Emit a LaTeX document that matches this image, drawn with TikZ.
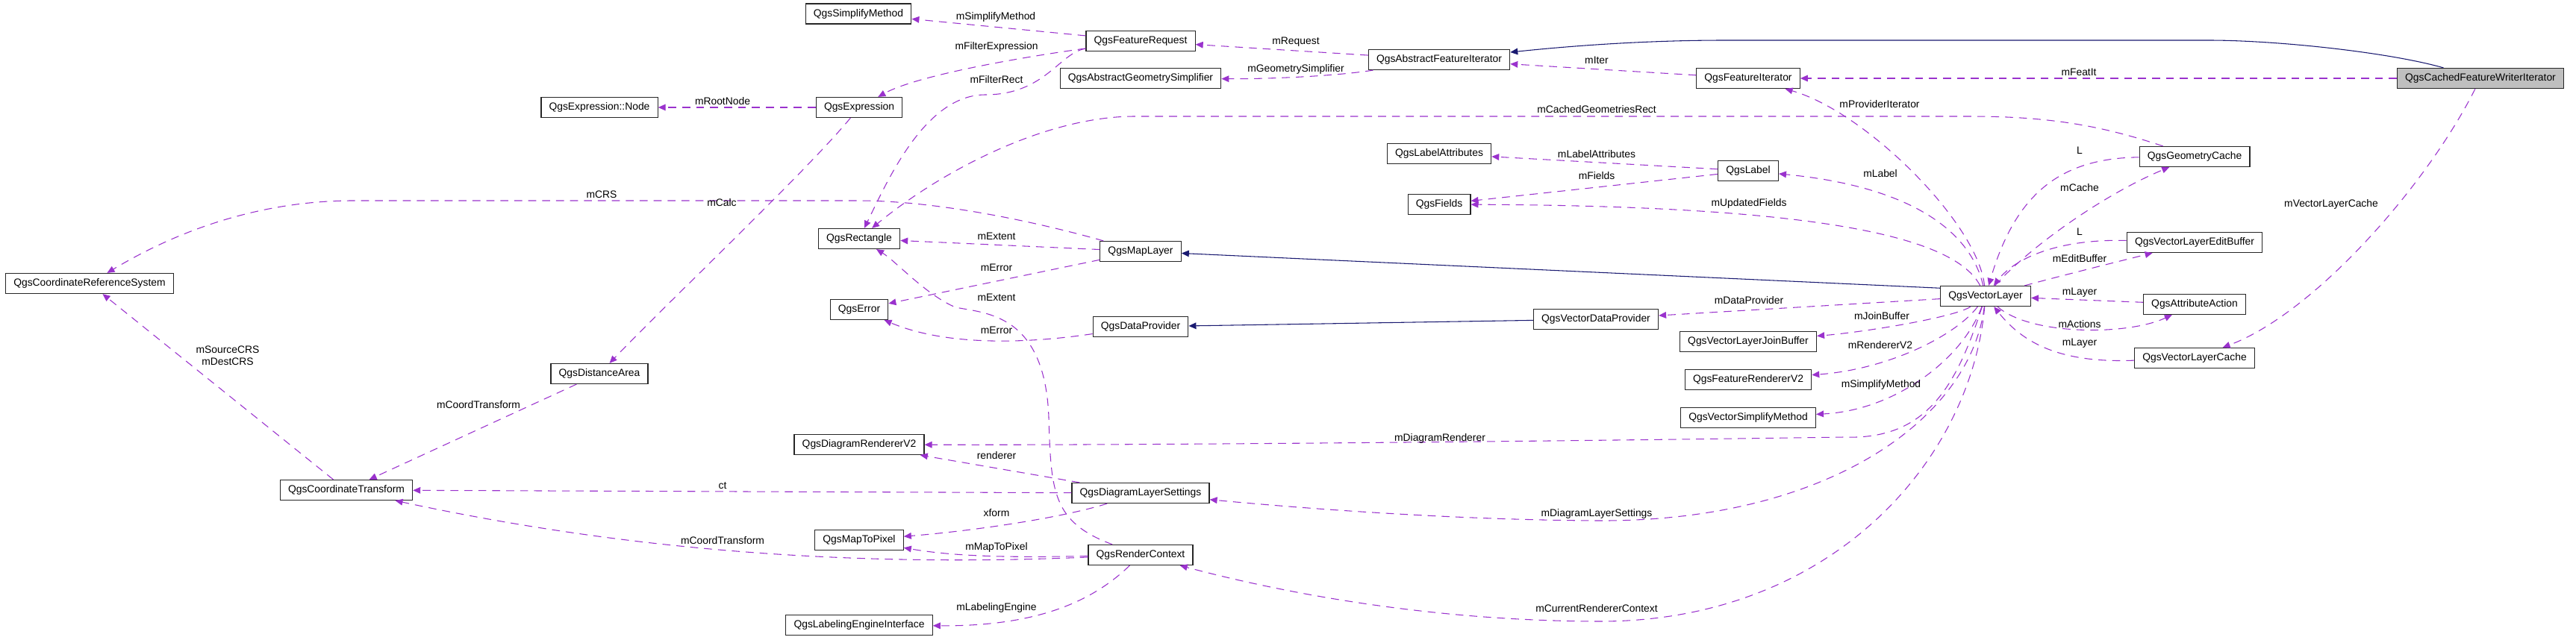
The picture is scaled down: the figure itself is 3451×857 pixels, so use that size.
\documentclass[tikz,border=0pt]{standalone}
\usepackage{fontspec}
\setmainfont{Liberation Sans}
\usetikzlibrary{arrows.meta}
\definecolor{memcol}{HTML}{9A32CD}
\definecolor{inhcol}{HTML}{191970}
\definecolor{curfill}{HTML}{BFBFBF}

\begin{document}
\begin{tikzpicture}[x=0.75pt, y=-0.75pt,
    every node/.style={font=\fontsize{10.4}{12}\selectfont},
    cls/.style={rectangle, draw=black!85, line width=0.9pt, fill=white, inner xsep=8pt, inner ysep=0pt, minimum height=20.25pt},
    curcls/.style={cls, fill=curfill},
    member/.style={draw=memcol, line width=0.8pt, dash pattern=on 8pt off 6pt, -{Triangle[length=7.5pt,width=6.5pt]}},
    inherit/.style={draw=inhcol, line width=0.8pt, -{Triangle[length=7.5pt,width=6.5pt]}},
    elabel/.style={inner sep=0pt}]
        \useasboundingbox (0,0) rectangle (3451,857);

        % classes
        \node[curcls] (cfwi) at (3323,105) {QgsCachedFeatureWriterIterator};
        \node[cls] (afi) at (1928,80) {QgsAbstractFeatureIterator};
        \node[cls] (fi) at (2342,105) {QgsFeatureIterator};
        \node[cls] (freq) at (1528,55) {QgsFeatureRequest};
        \node[cls] (smeth) at (1150,18.5) {QgsSimplifyMethod};
        \node[cls] (gsimp) at (1528,105) {QgsAbstractGeometrySimplifier};
        \node[cls] (expr) at (1151,144) {QgsExpression};
        \node[cls] (enode) at (803,144) {QgsExpression::Node};
        \node[cls] (gcache) at (2940,210) {QgsGeometryCache};
        \node[cls] (lattr) at (1928,206) {QgsLabelAttributes};
        \node[cls] (label) at (2342,229) {QgsLabel};
        \node[cls] (fields) at (1928,274) {QgsFields};
        \node[cls] (rect) at (1151,320) {QgsRectangle};
        \node[cls] (mlayer) at (1528,337) {QgsMapLayer};
        \node[cls] (ebuf) at (2940,325) {QgsVectorLayerEditBuffer};
        \node[cls] (crs) at (120,380) {QgsCoordinateReferenceSystem};
        \node[cls] (err) at (1151,415) {QgsError};
        \node[cls] (vlayer) at (2660,397) {QgsVectorLayer};
        \node[cls] (aact) at (2940,408) {QgsAttributeAction};
        \node[cls] (dprov) at (1528,438) {QgsDataProvider};
        \node[cls] (vdprov) at (2138,428) {QgsVectorDataProvider};
        \node[cls] (jbuf) at (2342,458) {QgsVectorLayerJoinBuffer};
        \node[cls] (vlcache) at (2940,480) {QgsVectorLayerCache};
        \node[cls] (darea) at (803,501) {QgsDistanceArea};
        \node[cls] (frend) at (2342,509) {QgsFeatureRendererV2};
        \node[cls] (vsmeth) at (2342,560) {QgsVectorSimplifyMethod};
        \node[cls] (drend) at (1151,596) {QgsDiagramRendererV2};
        \node[cls] (dls) at (1528,661) {QgsDiagramLayerSettings};
        \node[cls] (ctrans) at (464,657) {QgsCoordinateTransform};
        \node[cls] (m2p) at (1151,724) {QgsMapToPixel};
        \node[cls] (rctx) at (1528,744) {QgsRenderContext};
        \node[cls] (leng) at (1151,838) {QgsLabelingEngineInterface};

        % inheritance
        \draw[inherit] (cfwi) .. controls (3200,70) and (3050,54) .. (2959,54) -- (2311,54) .. controls (2200,54) and (2100,62) .. (afi);
        \draw[inherit] (vlayer.170) -- (mlayer);
        \draw[inherit] (vdprov) -- (dprov);

        % members of QgsCachedFeatureWriterIterator
        \draw[member] (cfwi) -- (fi);
        \draw[member] (cfwi) .. controls (3250,250) and (3100,420) .. (vlcache);
        \node[elabel] (tFeatIt) at (2785,97) {mFeatIt};
        \node[elabel] (tVlCache) at (3123,274) {mVectorLayerCache};

        % iterators and request
        \draw[member] (fi) -- (afi);
        \draw[member] (afi) -- (freq);
        \draw[member] (afi) .. controls (1790,102) and (1700,106) .. (gsimp);
        \draw[member] (freq) -- (smeth);
        \draw[member] (freq) .. controls (1380,75) and (1230,100) .. (expr);
        \draw[member] (freq) .. controls (1420,70) and (1400,127) .. (1320,127) .. controls (1240,127) and (1190,240) .. (rect);
        \draw[member] (expr) -- (enode);
        \draw[member] (expr) .. controls (1080,230) and (900,400) .. (darea);
        \node[elabel] (tIter) at (2139,81) {mIter};
        \node[elabel] (tRequest) at (1736,56) {mRequest};
        \node[elabel] (tGeomSimp) at (1736,93) {mGeometrySimplifier};
        \node[elabel] (tSimpMeth) at (1334,23) {mSimplifyMethod};
        \node[elabel] (tFiltExpr) at (1335,63) {mFilterExpression};
        \node[elabel] (tFiltRect) at (1335,107) {mFilterRect};
        \node[elabel] (tRootNode) at (968,136) {mRootNode};

        % geometry cache, label
        \draw[member] (gcache) .. controls (2820,170) and (2750,156) .. (2640,156) -- (1520,156) .. controls (1400,156) and (1260,230) .. (rect);
        \draw[member] (gcache) .. controls (2760,212) and (2700,260) .. (vlayer);
        \draw[member] (label) -- (lattr);
        \draw[member] (label) -- (fields);
        \node[elabel] (tCachedRect) at (2139,147) {mCachedGeometriesRect};
        \node[elabel] (tLgc) at (2786,202) {L};
        \node[elabel] (tLabAttr) at (2139,207) {mLabelAttributes};
        \node[elabel] (tFields) at (2139,236) {mFields};

        % members of QgsVectorLayer
        \draw[member] (vlayer) .. controls (2720,330) and (2820,260) .. (gcache);
        \draw[member] (ebuf) .. controls (2760,320) and (2700,345) .. (vlayer);
        \draw[member] (vlayer) .. controls (2760,370) and (2840,350) .. (ebuf);
        \draw[member] (aact) -- (vlayer);
        \draw[member] (vlayer) .. controls (2720,450) and (2850,450) .. (aact);
        \draw[member] (vlcache) .. controls (2760,487) and (2710,460) .. (vlayer);
        \draw[member] (vlayer) .. controls (2650,300) and (2500,150) .. (fi);
        \draw[member] (vlayer) .. controls (2640,310) and (2560,250) .. (label);
        \draw[member] (vlayer) .. controls (2620,320) and (2450,276) .. (fields);
        \draw[member] (vlayer) -- (vdprov);
        \draw[member] (vlayer) .. controls (2620,425) and (2500,445) .. (jbuf);
        \draw[member] (vlayer) .. controls (2620,450) and (2530,495) .. (frend);
        \draw[member] (vlayer) .. controls (2630,480) and (2540,550) .. (vsmeth);
        \draw[member] (vlayer) .. controls (2620,520) and (2580,590) .. (2470,586) .. controls (2200,590) and (1600,597) .. (drend);
        \draw[member] (vlayer) .. controls (2640,560) and (2450,700) .. (2139,698) .. controls (1950,697) and (1750,682) .. (dls);
        \draw[member] (vlayer) .. controls (2640,620) and (2450,835) .. (2139,833) .. controls (1900,832) and (1700,790) .. (rctx);
        \node[elabel] (tCache) at (2786,252) {mCache};
        \node[elabel] (tLeb) at (2786,311) {L};
        \node[elabel] (tEditBuf) at (2786,347) {mEditBuffer};
        \node[elabel] (tLayerA) at (2786,392) {mLayer};
        \node[elabel] (tActions) at (2786,435) {mActions};
        \node[elabel] (tLayerB) at (2786,460) {mLayer};
        \node[elabel] (tProvIter) at (2518,140) {mProviderIterator};
        \node[elabel] (tLabel) at (2519,233) {mLabel};
        \node[elabel] (tUpdFields) at (2343,273) {mUpdatedFields};
        \node[elabel] (tDataProv) at (2343,403) {mDataProvider};
        \node[elabel] (tJoinBuf) at (2521,424) {mJoinBuffer};
        \node[elabel] (tRendV2) at (2519,463) {mRendererV2};
        \node[elabel] (tVSimp) at (2520,516) {mSimplifyMethod};
        \node[elabel] (tDiagRend) at (1929,588) {mDiagramRenderer};
        \node[elabel] (tDiagSet) at (2139,689) {mDiagramLayerSettings};
        \node[elabel] (tCurCtx) at (2139,816) {mCurrentRendererContext};

        % map layer, providers
        \draw[member] (mlayer) .. controls (1380,295) and (1250,269) .. (1150,269) -- (470,269) .. controls (330,270) and (220,320) .. (crs);
        \draw[member] (mlayer) -- (rect);
        \draw[member] (mlayer) -- (err);
        \draw[member] (dprov) .. controls (1380,460) and (1270,465) .. (err);
        \node[elabel] (tCRS) at (806,261) {mCRS};
        \node[elabel] (tCalc) at (967,272) {mCalc};
        \node[elabel] (tExtentA) at (1335,317) {mExtent};
        \node[elabel] (tErrorA) at (1335,359) {mError};
        \node[elabel] (tExtentB) at (1335,399) {mExtent};
        \node[elabel] (tErrorB) at (1335,443) {mError};

        % transforms
        \draw[member] (ctrans) -- (crs);
        \draw[member] (darea) -- (ctrans);
        \node[elabel, align=center] (tSrcDest) at (305,477) {mSourceCRS\\mDestCRS};
        \node[elabel] (tCoordA) at (641,543) {mCoordTransform};

        % diagram settings and render context
        \draw[member] (dls) -- (drend);
        \draw[member] (dls) -- (ctrans);
        \draw[member] (dls) .. controls (1420,695) and (1300,712) .. (m2p);
        \draw[member] (rctx) .. controls (1380,747) and (1290,748) .. (m2p);
        \draw[member] (rctx) .. controls (1150,760) and (850,740) .. (ctrans);
        \draw[member] (rctx) .. controls (1470,800) and (1400,840) .. (leng);
        \draw[member] (rctx) .. controls (1410,700) and (1408,660) .. (1405,560) .. controls (1400,420) and (1320,420) .. (1280,412) .. controls (1240,395) and (1200,350) .. (rect);
        \node[elabel] (tRenderer) at (1335,611) {renderer};
        \node[elabel] (tCt) at (968,651) {ct};
        \node[elabel] (tXform) at (1335,688) {xform};
        \node[elabel] (tM2P) at (1335,734) {mMapToPixel};
        \node[elabel] (tCoordB) at (968,725) {mCoordTransform};
        \node[elabel] (tLabEng) at (1335,815) {mLabelingEngine};
\end{tikzpicture}
\end{document}
